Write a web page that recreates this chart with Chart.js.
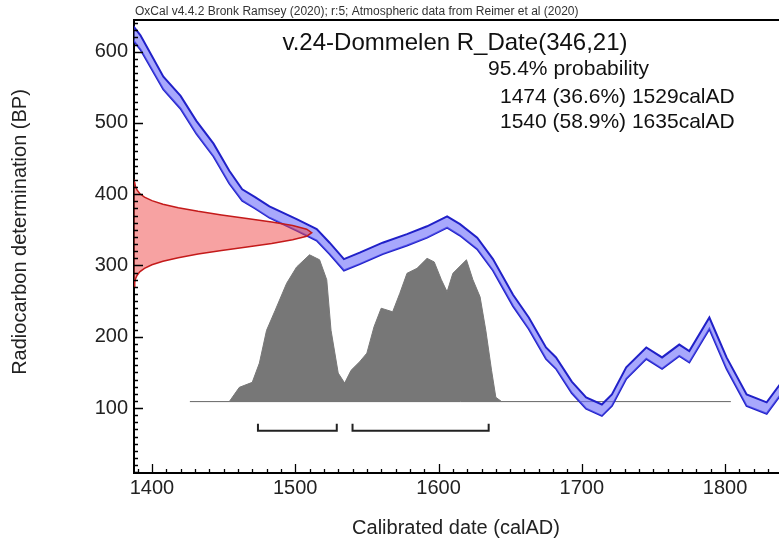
<!DOCTYPE html>
<html>
<head>
<meta charset="utf-8">
<title>v.24-Dommelen R_Date(346,21)</title>
<script src="https://cdn.jsdelivr.net/npm/chart.js@4"></script>
<style>
  body { margin: 0; background: #fff; }
  canvas { display: block; }
</style>
</head>
<body>
<canvas id="myChart" width="779" height="546"></canvas>
<script>
// axis ranges and tick labels
const xRange = [1387.5, 1837.6];
const yRange = [8.8, 644.5];
const xTicks = [1400, 1500, 1600, 1700, 1800];
const yTicks = [100, 200, 300, 400, 500, 600];

// calibration curve: centre and half width of the band (BP)
const curveYears = [1387, 1392, 1408, 1420, 1431, 1443, 1454, 1463, 1472, 1482, 1501, 1515, 1524, 1534, 1545, 1561, 1578, 1592, 1606, 1615, 1627, 1638, 1652, 1663, 1675, 1682, 1693, 1703, 1714, 1721, 1731, 1745, 1756, 1768, 1775, 1789, 1801, 1815, 1829, 1840];
const curveBP = [626, 613, 556, 529, 494, 462, 424, 399, 388, 375, 357, 343, 324, 301, 310, 324, 336, 347, 361, 350, 331, 301, 251, 219, 177, 163, 129, 107, 97, 111, 149, 177, 163, 181, 172, 219, 163, 111, 100, 130];
const curveErr = [10, 10, 9, 9, 9, 9, 9, 8, 8, 8, 8, 8, 8, 8, 8, 8, 8, 8, 8, 8, 8, 8, 8, 8, 8, 8, 8, 8, 8, 8, 8, 8, 8, 8, 8, 8, 8, 8, 8, 8];

// measured date R_Date(346,21), drawn out from the y axis (width in years)
const dateBP = [271, 276, 281, 286, 291, 296, 301, 306, 311, 316, 321, 326, 331, 336, 341, 346, 351, 356, 361, 366, 371, 376, 381, 386, 391, 396, 401, 406, 411, 416, 421];
const dateWidth = [0, 0.5, 1.0, 2.1, 4.0, 7.3, 12.5, 20.2, 30.9, 44.7, 61.1, 78.8, 96.1, 110.7, 120.5, 124, 120.5, 110.7, 96.1, 78.8, 61.1, 44.7, 30.9, 20.2, 12.5, 7.3, 4.0, 2.1, 1.0, 0.5, 0];

// calibrated distribution (plotted height in BP units)
const calYears = [1454, 1461, 1470, 1475, 1480, 1486, 1494, 1501, 1510, 1517, 1522, 1525, 1530, 1534.5, 1539, 1545, 1550, 1555, 1560, 1568, 1573, 1578, 1585, 1592, 1597, 1602, 1606, 1610, 1619.5, 1624, 1629, 1633, 1637, 1640, 1644];
const calHeight = [109, 129, 136, 163, 209, 237, 275, 298, 315, 308, 280, 209, 149, 135, 153, 165, 177, 214, 240, 235, 261, 289, 296, 310, 305, 280, 263, 289, 308, 280, 256, 209, 153, 115, 109];
const calBase = 109;
const baseYears = [1426.5, 1804];

// 95.4% ranges
const ranges = [[1474, 1529], [1540, 1635]];
const rangeLevel = 68;
const rangeTop = 78;

const font = 'Liberation Sans, Arial, sans-serif';

function pts(xs, ys) {
    return xs.map((v, i) => ({ x: v, y: ys[i] }));
}

const rangeSets = ranges.map(r => ({
    data: [{ x: r[0], y: rangeTop }, { x: r[0], y: rangeLevel }, { x: r[1], y: rangeLevel }, { x: r[1], y: rangeTop }],
    borderColor: '#222',
    borderWidth: 2,
    fill: false
}));

// inward ticks, top frame and the text blocks
const oxcalDecor = {
    id: 'oxcalDecor',
    afterDraw(chart) {
        const { ctx, chartArea: a, scales: { x, y } } = chart;
        ctx.save();
        ctx.strokeStyle = '#000';
        ctx.lineWidth = 2;
        ctx.beginPath();
        ctx.moveTo(a.left, a.top);
        ctx.lineTo(a.right, a.top);
        ctx.stroke();

        ctx.lineWidth = 1.3;
        ctx.beginPath();
        for (let v = Math.ceil(x.min / 10) * 10; v <= x.max; v += 10) {
            const px = Math.round(x.getPixelForValue(v)) + 0.5;
            const len = v % 100 === 0 ? 9 : 4;
            ctx.moveTo(px, a.bottom);
            ctx.lineTo(px, a.bottom - len);
        }
        for (let v = Math.ceil(y.min / 10) * 10; v <= y.max; v += 10) {
            const py = Math.round(y.getPixelForValue(v)) + 0.5;
            const len = v % 100 === 0 ? 9 : 4;
            ctx.moveTo(a.left, py);
            ctx.lineTo(a.left + len, py);
        }
        ctx.stroke();

        ctx.fillStyle = '#333';
        ctx.textBaseline = 'middle';
        ctx.font = '12px ' + font;
        ctx.textAlign = 'left';
        ctx.fillText('OxCal v4.4.2 Bronk Ramsey (2020); r:5; Atmospheric data from Reimer et al (2020)', 135, 12);

        ctx.fillStyle = '#111';
        ctx.font = '24px ' + font;
        ctx.textAlign = 'center';
        ctx.fillText('v.24-Dommelen R_Date(346,21)', 455, 43);
        ctx.font = '21px ' + font;
        ctx.textAlign = 'left';
        ctx.fillText('95.4% probability', 488, 69);
        ctx.fillText('1474 (36.6%) 1529calAD', 500, 97);
        ctx.fillText('1540 (58.9%) 1635calAD', 500, 122);

        ctx.fillStyle = '#222';
        ctx.font = '20px ' + font;
        ctx.textAlign = 'center';
        ctx.fillText('Calibrated date (calAD)', 456, 528);
        ctx.translate(20, 232);
        ctx.rotate(-Math.PI / 2);
        ctx.fillText('Radiocarbon determination (BP)', 0, 0);
        ctx.restore();
    }
};

var ctx = document.getElementById('myChart').getContext('2d');
var chart = new Chart(ctx, {
    type: 'scatter',
    data: {
        datasets: [
            {
                // measured date
                data: pts(dateWidth.map(w => xRange[0] + w), dateBP),
                borderColor: '#c41a1a',
                borderWidth: 1.5,
                backgroundColor: 'rgba(240, 70, 70, 0.5)',
                fill: 'shape'
            },
            ...rangeSets,
            {
                // curve upper edge
                data: pts(curveYears, curveBP.map((v, i) => v + curveErr[i])),
                borderColor: '#2020c8',
                borderWidth: 2,
                backgroundColor: 'rgba(110, 110, 250, 0.6)',
                fill: '+1'
            },
            {
                // curve lower edge
                data: pts(curveYears, curveBP.map((v, i) => v - curveErr[i])),
                borderColor: '#2020c8',
                borderWidth: 2,
                fill: false
            },
            {
                data: pts(calYears, calHeight),
                borderColor: '#777',
                borderWidth: 1,
                backgroundColor: '#777',
                fill: { target: { value: calBase } }
            },
            {
                data: pts(baseYears, [calBase, calBase]),
                borderColor: '#666',
                borderWidth: 1,
                fill: false
            }
        ]
    },
    options: {
        responsive: false,
        animation: false,
        showLine: true,
        elements: { point: { radius: 0 }, line: { tension: 0 } },
        layout: { padding: { top: 20, right: 0, left: 0, bottom: 0 } },
        plugins: { legend: { display: false }, tooltip: { enabled: false } },
        scales: {
            x: {
                type: 'linear',
                min: xRange[0],
                max: xRange[1],
                afterBuildTicks: s => { s.ticks = xTicks.map(v => ({ value: v })); },
                afterFit: s => { s.height = 73; },
                grid: { display: true, drawOnChartArea: false, drawTicks: false },
                border: { display: true, color: '#000', width: 2 },
                ticks: {
                    padding: 3, color: '#222', autoSkip: false, maxRotation: 0,
                    font: { family: font, size: 20 },
                    callback: v => String(v)
                }
            },
            y: {
                type: 'linear',
                min: yRange[0],
                max: yRange[1],
                afterBuildTicks: s => { s.ticks = yTicks.map(v => ({ value: v })); },
                afterFit: s => { s.width = 134; },
                grid: { display: true, drawOnChartArea: false, drawTicks: false },
                border: { display: true, color: '#000', width: 2 },
                ticks: {
                    padding: 6, color: '#222', autoSkip: false,
                    font: { family: font, size: 20 },
                    callback: v => String(v)
                }
            }
        }
    },
    plugins: [oxcalDecor]
});
</script>
</body>
</html>
